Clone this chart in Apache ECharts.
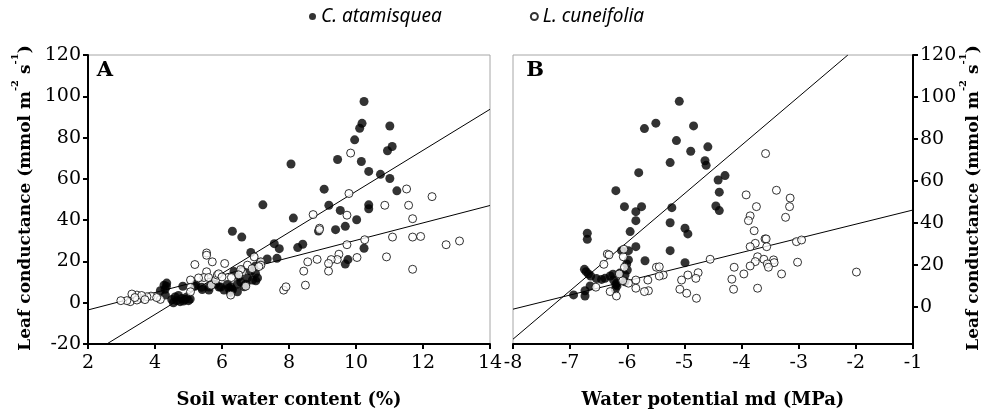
<!DOCTYPE html>
<html>
<head>
<meta charset="utf-8">
<script src="https://cdn.jsdelivr.net/npm/echarts@6/dist/echarts.min.js"></script>
<style>html,body{margin:0;padding:0;background:#fff;}#c{width:989px;height:417px;}</style>
</head>
<body>
<div id="c"></div>
<script>
// ---- Data ----
var seriesNames = ['C. atamisquea', 'L. cuneifolia'];
var xTitleA = 'Soil water content (%)';
var xTitleB = 'Water potential md (MPa)';
var yTicks = [0, 20, 40, 60, 80, 100, 120];

// Panel A: soil water content (%) vs leaf conductance
var atamisqueaA = [
  [7.22,47.4],[8.06,67.2],[10.24,97.5],[10.18,86.9],[10.11,84.5],[11.01,85.6],[9.96,78.9],[10.94,73.6],[11.08,75.7],
  [9.45,69.4],[10.16,68.4],[10.38,63.6],[10.73,62.2],[11.01,60.2],[9.05,55],[11.22,54.2],[9.19,47.2],[10.38,47.4],
  [10.38,45.5],[9.53,44.7],[8.13,41],[10.02,40.2],
  [6.31,34.6],[6.59,31.8],[7.56,28.6],[7.71,26.2],[8.26,26.7],[8.41,28.3],[8.88,34.7],[9.39,35.4],[9.68,37],
  [10.24,26.4],[9.68,18.7],[9.76,20.9],[6.86,24.3],[7.35,21.2],[7.64,21.5],[7.14,19.6],[6.99,17.7],
  [6.36,15.1],[6.61,15.8],[6.86,15.3],[7.0,14.2],[6.76,12],[6.91,11],[7.06,12],[6.51,12.5],[6.56,10],[6.71,9],
  [7.01,10.6],[6.46,9],[6.66,7.7],[6.2,7],[6.25,5],[6.3,6.5],[5.91,7.6],[5.61,7.6],[5.71,9.3],[5.41,6.4],[5.19,8],
  [4.83,8],[4.34,8],[4.16,5.8],[4.31,3.7],[4.27,8.5],[4.35,9.5],[4.3,6.5],[5.21,9],[5.39,7.5],[5.61,6.1],[5.81,9],
  [5.96,7.6],[6.06,6.1],[6.16,8.8],[6.26,7.7],[6.31,6.1],[6.46,5.3],
  [4.5,1.5],[4.6,2.8],[4.65,1],[4.7,3.5],[4.75,0.5],[4.8,2],[4.9,1.5],[4.95,2.8],[5.0,1],[5.05,1.8],[4.55,0],[4.85,0.8]
];
var cuneifoliaA = [
  [9.84,72.5],[9.79,52.9],[8.72,42.7],[9.73,42.4],[11.51,55.1],[10.86,47.2],[11.57,47.2],[12.27,51.4],[11.69,40.7],
  [8.91,36.1],[8.91,35.4],[9.73,28.1],[10.26,30.5],[11.09,31.8],[11.69,31.8],[11.93,32.1],[12.69,28.1],[13.09,29.9],
  [10.91,22.2],[11.69,16.2],[10.03,21.9],[9.49,23.5],[9.44,20.9],[9.26,20.9],[9.18,19],[9.18,15.3],[8.84,21],
  [8.56,19.8],[8.44,15.3],[8.49,8.5],[7.84,6.1],[7.91,7.7],
  [7.16,19.8],[7.16,18.2],[6.96,22.2],[6.76,18.2],[6.61,15],[6.71,8],[6.56,16.1],[6.26,3.7],[6.28,12.2],[6.08,19],
  [5.71,19.8],[5.54,24.1],[5.54,23],[5.19,18.5],[5.54,15],[5.46,12.2],[5.6,12.2],[5.68,8.5],[5.81,11],[5.86,13.4],
  [5.06,11],[5.06,7.4],[5.06,5.3],[5.9,14],[6.0,12.5],[6.5,13.5],[6.9,16.5],[7.1,17.5],[5.3,12],
  [4.16,1.6],[3.88,3.2],[3.76,2.9],[3.56,2.1],[3.46,3.7],[3.31,4.2],[3.26,0.5],[3.16,1],[2.98,1],[3.46,1.3],
  [3.6,3.5],[3.4,2.5],[3.7,1.5],[4.05,2.5]
];
// Panel B: water potential md (MPa) vs leaf conductance
var atamisqueaB = [
  [-5.09,97.9],[-5.50,87.5],[-5.70,84.9],[-4.84,86.2],[-5.14,79.2],[-4.89,74.1],[-4.59,76.2],[-4.64,69.6],[-4.62,67.4],
  [-5.25,68.7],[-5.80,63.9],[-4.41,60.4],[-4.29,62.5],[-4.39,54.6],[-6.20,55.3],[-6.05,47.7],[-5.75,47.7],[-5.85,45.3],
  [-5.22,47.2],[-4.45,48],[-4.39,45.8],[-5.85,41],[-6.70,35],[-6.70,32.1],[-5.95,35.8],[-5.25,40],[-4.99,37.4],
  [-4.94,34.7],[-5.85,28.6],[-6.10,26.7],[-5.98,26.7],[-5.25,26.7],[-5.69,21.9],[-4.99,21],[-5.98,22.3],[-6.01,20.4],
  [-6.75,17.8],[-6.72,16.7],[-6.68,15.6],[-6.64,14.6],[-6.54,13.4],[-6.39,13.5],[-6.30,14.6],[-6.24,12.7],[-6.18,11.4],
  [-6.04,15.1],[-6.04,11.9],[-6.18,9.9],[-6.21,8.3],[-6.65,9.9],[-6.74,7.6],[-6.74,5.1],[-6.94,5.6],
  [-6.45,13],[-6.25,15.5],[-6.13,16],[-6.0,17.5],[-6.2,10.5]
];
var cuneifoliaB = [
  [-3.58,73],[-3.39,55.5],[-3.92,53.3],[-3.74,47.7],[-3.15,51.8],[-3.16,47.7],[-3.85,43.3],[-3.23,42.6],[-3.88,41],
  [-3.78,36.2],[-3.59,32.3],[-3.57,32.3],[-3.76,30.2],[-3.56,28.6],[-3.85,28.6],[-3.04,31],[-2.95,31.8],[-4.55,22.6],
  [-4.13,18.8],[-3.72,23.8],[-3.76,21.5],[-3.61,22.6],[-3.44,22.3],[-3.43,21],[-3.55,20.4],[-3.53,18.8],[-3.85,19.4],
  [-3.02,21.2],[-3.96,15.6],[-3.30,15.6],[-1.99,16.5],[-4.17,13.1],[-4.14,8.3],[-3.72,8.8],[-4.76,16.2],[-4.80,13.5],
  [-4.94,15.1],[-5.05,12.7],[-5.08,8.3],[-4.96,6.4],[-4.79,4],[-5.37,15.1],[-5.44,14.6],[-5.49,18.8],[-5.44,19],
  [-5.64,12.7],[-5.63,7.6],[-5.70,7.2],[-5.85,12.7],[-5.85,8.8],[-5.98,11.2],[-6.08,12.4],[-6.05,18.8],[-6.07,23.8],
  [-6.06,27.4],[-6.14,15.6],[-6.35,25.1],[-6.32,24.7],[-6.41,20.2],[-6.30,7.2],[-6.19,5.1],[-6.55,9.3]
];
// Fitted lines (endpoints)
var fitA_atamisquea = [[2.56,-20],[14,93.7]];
var fitA_cuneifolia = [[2,-3.5],[14,47.1]];
var fitB_atamisquea = [[-8,-15.5],[-2.14,120]];
var fitB_cuneifolia = [[-8,-1.2],[-1,46.1]];

// ---- Chart ----
var chart = echarts.init(document.getElementById('c'), null, {renderer: 'canvas'});
var serif = 'DejaVu Serif';
var tickLabel = {fontFamily: serif, fontSize: 19, color: '#000'};
function xAxisCfg(gi, min, max, interval) {
  return {
    gridIndex: gi, type: 'value', min: min, max: max, interval: interval,
    axisLine: {onZero: false, lineStyle: {color: '#000', width: 2}},
    axisTick: {inside: false, length: 5, lineStyle: {color: '#000', width: 2}},
    axisLabel: Object.assign({margin: 10, showMinLabel: true, showMaxLabel: true, hideOverlap: false}, tickLabel),
    splitLine: {show: false}
  };
}
var filledStyle = {color: '#000'};
var openStyle = {color: '#fff', borderColor: '#000', borderWidth: 1};
function lineSeries(xi, yi, d) {
  return {type: 'line', xAxisIndex: xi, yAxisIndex: yi, data: d, showSymbol: false, symbol: 'none',
    lineStyle: {color: '#000', width: 1}, silent: true, z: 2, clip: true, animation: false};
}
function scatterSeries(name, xi, yi, d, open) {
  return {type: 'scatter', name: name, xAxisIndex: xi, yAxisIndex: yi, data: d,
    symbol: 'circle', symbolSize: open ? 8 : 9, itemStyle: open ? openStyle : filledStyle, z: 3, animation: false};
}
var richTitle = {
  b: {fontFamily: serif, fontWeight: 'bold', fontSize: 17, color: '#000', lineHeight: 24, verticalAlign: 'bottom'},
  s: {fontFamily: serif, fontWeight: 'bold', fontSize: 10, color: '#000', lineHeight: 24, verticalAlign: 'top'}
};
var yTitleText = '{b|Leaf conductance (mmol m}{s|-2}{b| s}{s|-1}{b|)}';

var option = {
  backgroundColor: '#fff',
  animation: false,
  legend: {
    data: seriesNames,
    top: 2, left: 304,
    itemGap: 88, itemWidth: 7, itemHeight: 7, icon: 'circle',
    textStyle: {fontFamily: 'Noto Sans', fontStyle: 'italic', fontSize: 19, color: '#000'}
  },
  grid: [
    {left: 88, top: 55, width: 402, height: 289, show: true, borderColor: '#a6a6a6', borderWidth: 1, backgroundColor: 'transparent'},
    {left: 513, top: 55, width: 400, height: 289, show: true, borderColor: '#a6a6a6', borderWidth: 1, backgroundColor: 'transparent'}
  ],
  xAxis: [xAxisCfg(0, 2, 14, 2), xAxisCfg(1, -8, -1, 1)],
  yAxis: [
    {gridIndex: 0, type: 'value', min: -20, max: 120, interval: 20, position: 'left',
      axisLine: {show: true, onZero: false, lineStyle: {color: '#000', width: 2}},
      axisTick: {show: true, inside: false, length: 5, lineStyle: {color: '#000', width: 2}},
      axisLabel: Object.assign({margin: 7, showMinLabel: true, showMaxLabel: true}, tickLabel),
      splitLine: {show: false}},
    {gridIndex: 1, type: 'value', min: -17.8, max: 120, position: 'right',
      axisLine: {show: true, onZero: false, lineStyle: {color: '#000', width: 2}},
      axisTick: {show: true, inside: false, length: 5, lineStyle: {color: '#000', width: 2}, customValues: yTicks},
      axisLabel: Object.assign({margin: 7, customValues: yTicks}, tickLabel),
      splitLine: {show: false}}
  ],
  graphic: [
    {type: 'text', x: 105, y: 71, silent: true, style: {text: 'A', fontFamily: serif, fontWeight: 'bold', fontSize: 21, fill: '#000', align: 'center', verticalAlign: 'middle'}},
    {type: 'text', x: 535, y: 71, silent: true, style: {text: 'B', fontFamily: serif, fontWeight: 'bold', fontSize: 21, fill: '#000', align: 'center', verticalAlign: 'middle'}},
    {type: 'text', x: 289, y: 400, silent: true, style: {text: xTitleA, fontFamily: serif, fontWeight: 'bold', fontSize: 18, fill: '#000', align: 'center', verticalAlign: 'middle'}},
    {type: 'text', x: 713, y: 400, silent: true, style: {text: xTitleB, fontFamily: serif, fontWeight: 'bold', fontSize: 18, fill: '#000', align: 'center', verticalAlign: 'middle'}},
    {type: 'text', x: 22, y: 198, rotation: Math.PI / 2, silent: true, style: {text: yTitleText, rich: richTitle, align: 'center', verticalAlign: 'middle'}},
    {type: 'text', x: 970, y: 198, rotation: Math.PI / 2, silent: true, style: {text: yTitleText, rich: richTitle, align: 'center', verticalAlign: 'middle'}}
  ],
  series: [
    lineSeries(0, 0, fitA_atamisquea),
    lineSeries(0, 0, fitA_cuneifolia),
    lineSeries(1, 1, fitB_atamisquea),
    lineSeries(1, 1, fitB_cuneifolia),
    scatterSeries(seriesNames[0], 0, 0, atamisqueaA, false),
    scatterSeries(seriesNames[1], 0, 0, cuneifoliaA, true),
    scatterSeries(seriesNames[0], 1, 1, atamisqueaB, false),
    scatterSeries(seriesNames[1], 1, 1, cuneifoliaB, true)
  ]
};
chart.setOption(option);
</script>
</body>
</html>
